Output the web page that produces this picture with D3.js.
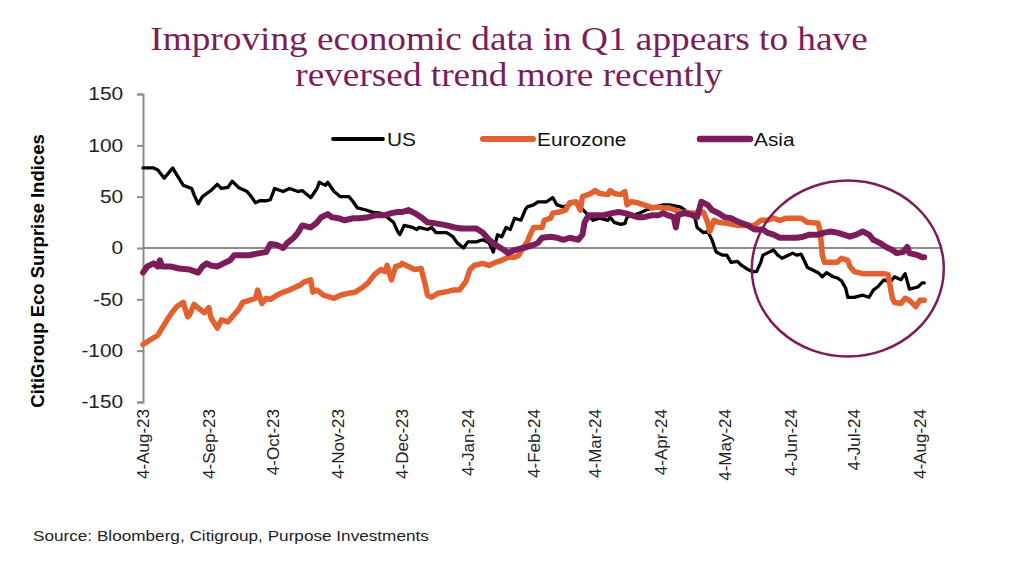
<!DOCTYPE html>
<html><head><meta charset="utf-8">
<script src="https://cdn.jsdelivr.net/npm/d3@7"></script>
<style>body{margin:0;background:#fff}</style>
</head><body><svg id="c" width="1024" height="575"></svg>
<script>
const titleLines = ["Improving economic data in Q1 appears to have", "reversed trend more recently"];
const seriesNames = ["US", "Eurozone", "Asia"];
const yLabel = "CitiGroup Eco Surprise Indices";
const sourceText = "Source: Bloomberg, Citigroup, Purpose Investments";
const yTicks = [150, 100, 50, 0, -50, -100, -150];
const xTickDates = ["2023-08-04","2023-09-04","2023-10-04","2023-11-04","2023-12-04","2024-01-04","2024-02-04","2024-03-04","2024-04-04","2024-05-04","2024-06-04","2024-07-04","2024-08-04"];

const usData = [
["2023-08-04",78],["2023-08-09",78],["2023-08-11",76],["2023-08-14",68],["2023-08-18",78],["2023-08-20",71],["2023-08-23",61],["2023-08-27",58],["2023-08-28",52],["2023-08-30",43],["2023-09-01",50],["2023-09-05",56],["2023-09-08",62],["2023-09-10",58],["2023-09-13",59],["2023-09-15",65],["2023-09-18",59],["2023-09-22",55],["2023-09-24",50],["2023-09-26",44],["2023-09-28",46],["2023-10-01",46],["2023-10-03",47],["2023-10-05",58],["2023-10-09",55],["2023-10-12",58],["2023-10-16",55],["2023-10-18",56],["2023-10-22",49],["2023-10-25",58],["2023-10-26",64],["2023-10-29",61],["2023-10-30",64],["2023-11-02",55],["2023-11-05",50],["2023-11-09",50],["2023-11-11",45],["2023-11-13",39],["2023-11-17",37],["2023-11-20",35],["2023-11-24",34],["2023-11-27",30],["2023-11-30",25],["2023-12-02",16],["2023-12-03",13],["2023-12-05",22],["2023-12-09",20],["2023-12-11",18],["2023-12-12",20],["2023-12-16",18],["2023-12-18",20],["2023-12-20",15],["2023-12-25",15],["2023-12-28",11],["2023-12-30",5],["2024-01-02",0],["2024-01-04",6],["2024-01-08",6],["2024-01-11",8],["2024-01-14",5],["2024-01-16",-4],["2024-01-18",13],["2024-01-20",11],["2024-01-22",20],["2024-01-24",18],["2024-01-26",29],["2024-01-29",27],["2024-01-31",37],["2024-02-01",40],["2024-02-04",42],["2024-02-06",45],["2024-02-10",45],["2024-02-13",49],["2024-02-15",42],["2024-02-18",40],["2024-02-23",44],["2024-02-26",40],["2024-03-03",27],["2024-03-06",29],["2024-03-10",27],["2024-03-11",30],["2024-03-13",25],["2024-03-16",23],["2024-03-18",24],["2024-03-19",30],["2024-03-25",34],["2024-03-28",37],["2024-04-02",40],["2024-04-05",42],["2024-04-08",42],["2024-04-13",40],["2024-04-14",39],["2024-04-18",32],["2024-04-20",29],["2024-04-21",20],["2024-04-24",15],["2024-04-26",16],["2024-04-28",8],["2024-04-30",-4],["2024-05-03",-7],["2024-05-05",-7],["2024-05-07",-14],["2024-05-10",-13],["2024-05-12",-17],["2024-05-15",-21],["2024-05-17",-23],["2024-05-19",-23],["2024-05-21",-14],["2024-05-22",-7],["2024-05-24",-5],["2024-05-27",-2],["2024-05-29",-7],["2024-05-31",-10],["2024-06-03",-7],["2024-06-05",-5],["2024-06-07",-7],["2024-06-09",-6],["2024-06-12",-19],["2024-06-14",-21],["2024-06-17",-24],["2024-06-19",-28],["2024-06-21",-24],["2024-06-24",-28],["2024-06-26",-29],["2024-06-28",-32],["2024-06-30",-39],["2024-07-01",-48],["2024-07-04",-48],["2024-07-08",-46],["2024-07-11",-48],["2024-07-13",-41],["2024-07-15",-38],["2024-07-18",-31],["2024-07-21",-33],["2024-07-23",-28],["2024-07-26",-31],["2024-07-28",-25],["2024-07-30",-40],["2024-08-03",-38],["2024-08-05",-34],["2024-08-06",-34]
];

const ezData = [
["2023-08-04",-94],["2023-08-07",-90],["2023-08-11",-85],["2023-08-13",-78],["2023-08-16",-68],["2023-08-18",-62],["2023-08-20",-57],["2023-08-23",-53],["2023-08-25",-67],["2023-08-26",-65],["2023-08-28",-55],["2023-08-31",-60],["2023-09-02",-63],["2023-09-04",-58],["2023-09-05",-68],["2023-09-08",-78],["2023-09-10",-70],["2023-09-13",-72],["2023-09-15",-67],["2023-09-18",-60],["2023-09-20",-53],["2023-09-23",-51],["2023-09-26",-49],["2023-09-27",-41],["2023-09-29",-54],["2023-10-01",-49],["2023-10-03",-50],["2023-10-06",-46],["2023-10-09",-43],["2023-10-12",-41],["2023-10-15",-38],["2023-10-17",-36],["2023-10-19",-33],["2023-10-22",-31],["2023-10-23",-43],["2023-10-25",-41],["2023-10-28",-46],["2023-11-02",-49],["2023-11-05",-46],["2023-11-09",-44],["2023-11-12",-43],["2023-11-15",-39],["2023-11-18",-34],["2023-11-21",-26],["2023-11-24",-21],["2023-11-26",-23],["2023-11-27",-17],["2023-11-29",-31],["2023-12-01",-18],["2023-12-03",-17],["2023-12-04",-15],["2023-12-06",-17],["2023-12-10",-21],["2023-12-13",-20],["2023-12-15",-36],["2023-12-16",-46],["2023-12-18",-48],["2023-12-21",-44],["2023-12-24",-43],["2023-12-28",-41],["2023-12-31",-41],["2024-01-03",-33],["2024-01-05",-21],["2024-01-07",-17],["2024-01-11",-15],["2024-01-14",-17],["2024-01-17",-14],["2024-01-20",-12],["2024-01-23",-9],["2024-01-26",-9],["2024-01-28",-7],["2024-01-30",0],["2024-02-01",6],["2024-02-02",11],["2024-02-04",20],["2024-02-06",20],["2024-02-08",20],["2024-02-09",27],["2024-02-12",29],["2024-02-13",34],["2024-02-16",35],["2024-02-19",37],["2024-02-21",44],["2024-02-24",45],["2024-02-26",37],["2024-02-27",50],["2024-03-02",53],["2024-03-04",56],["2024-03-06",53],["2024-03-10",52],["2024-03-11",56],["2024-03-13",53],["2024-03-16",52],["2024-03-18",55],["2024-03-19",42],["2024-03-21",45],["2024-03-24",44],["2024-03-27",42],["2024-03-31",39],["2024-04-02",40],["2024-04-05",39],["2024-04-08",39],["2024-04-13",35],["2024-04-18",34],["2024-04-21",34],["2024-04-24",35],["2024-04-26",25],["2024-04-27",16],["2024-04-29",27],["2024-05-01",25],["2024-05-05",24],["2024-05-10",22],["2024-05-15",22],["2024-05-18",22],["2024-05-21",27],["2024-05-24",27],["2024-05-27",29],["2024-05-30",27],["2024-06-02",29],["2024-06-05",29],["2024-06-09",29],["2024-06-12",25],["2024-06-17",24],["2024-06-18",16],["2024-06-19",-7],["2024-06-20",-14],["2024-06-23",-14],["2024-06-26",-14],["2024-06-28",-10],["2024-07-01",-12],["2024-07-02",-18],["2024-07-04",-23],["2024-07-08",-25],["2024-07-13",-25],["2024-07-18",-25],["2024-07-20",-26],["2024-07-21",-38],["2024-07-22",-49],["2024-07-23",-53],["2024-07-26",-54],["2024-07-28",-49],["2024-07-30",-51],["2024-08-02",-57],["2024-08-04",-51],["2024-08-06",-51]
];

const asiaData = [
["2023-08-04",-24],["2023-08-06",-18],["2023-08-09",-15],["2023-08-11",-18],["2023-08-12",-12],["2023-08-13",-18],["2023-08-17",-18],["2023-08-21",-20],["2023-08-26",-21],["2023-08-30",-24],["2023-09-01",-18],["2023-09-03",-15],["2023-09-05",-17],["2023-09-08",-18],["2023-09-11",-15],["2023-09-14",-12],["2023-09-16",-7],["2023-09-20",-7],["2023-09-23",-7],["2023-09-28",-5],["2023-10-01",-4],["2023-10-03",4],["2023-10-06",3],["2023-10-09",0],["2023-10-11",5],["2023-10-14",10],["2023-10-16",15],["2023-10-18",22],["2023-10-22",20],["2023-10-25",25],["2023-10-27",30],["2023-10-30",33],["2023-11-01",30],["2023-11-04",29],["2023-11-07",27],["2023-11-11",29],["2023-11-14",29],["2023-11-18",30],["2023-11-22",32],["2023-11-26",32],["2023-11-29",34],["2023-12-02",35],["2023-12-04",35],["2023-12-07",37],["2023-12-10",34],["2023-12-13",30],["2023-12-16",25],["2023-12-20",24],["2023-12-25",22],["2023-12-29",20],["2024-01-01",19],["2024-01-04",19],["2024-01-08",19],["2024-01-11",15],["2024-01-14",8],["2024-01-17",3],["2024-01-21",-2],["2024-01-23",-5],["2024-01-26",-2],["2024-01-30",0],["2024-02-01",1],["2024-02-04",3],["2024-02-06",5],["2024-02-08",10],["2024-02-12",11],["2024-02-15",10],["2024-02-18",8],["2024-02-21",10],["2024-02-25",8],["2024-02-27",13],["2024-02-28",25],["2024-03-01",32],["2024-03-04",32],["2024-03-08",32],["2024-03-12",34],["2024-03-15",35],["2024-03-18",34],["2024-03-21",32],["2024-03-24",30],["2024-03-27",30],["2024-03-31",32],["2024-04-03",32],["2024-04-05",34],["2024-04-07",32],["2024-04-10",30],["2024-04-11",20],["2024-04-12",32],["2024-04-15",34],["2024-04-19",32],["2024-04-21",30],["2024-04-23",45],["2024-04-26",42],["2024-04-28",37],["2024-05-01",34],["2024-05-04",30],["2024-05-07",29],["2024-05-11",25],["2024-05-15",22],["2024-05-18",18],["2024-05-22",18],["2024-05-24",15],["2024-05-27",13],["2024-05-30",10],["2024-06-02",10],["2024-06-07",10],["2024-06-10",11],["2024-06-13",13],["2024-06-17",13],["2024-06-20",15],["2024-06-23",16],["2024-06-26",15],["2024-06-29",13],["2024-07-02",11],["2024-07-05",13],["2024-07-08",16],["2024-07-11",13],["2024-07-13",8],["2024-07-16",5],["2024-07-19",1],["2024-07-22",-2],["2024-07-24",-5],["2024-07-27",-4],["2024-07-29",1],["2024-07-30",-5],["2024-08-03",-7],["2024-08-05",-9],["2024-08-06",-9]
];

const highlight = {date: "2024-07-01", value: -20};

const colors = {US: "#000000", Eurozone: "#E2612F", Asia: "#7B1D5B"};
const widths = {US: 3.3, Eurozone: 5.5, Asia: 6};
const seriesData = {US: usData, Eurozone: ezData, Asia: asiaData};

const parse = d3.utcParse("%Y-%m-%d");
const fmt = d3.utcFormat("%-d-%b-%y");
const svg = d3.select("#c");
const sx = 1.13; // horizontal stretch of the original

const x = d3.scaleUtc().domain([parse(xTickDates[0]), parse(xTickDates[xTickDates.length-1])]).range([143, 920]);
const y = d3.scaleLinear().domain([-150, 150]).range([402, 94]);

// title
svg.append("g").selectAll("text").data(titleLines).join("text")
  .attr("transform", (d,i) => `translate(509,${50 + i*36}) scale(${sx},1)`)
  .attr("text-anchor", "middle")
  .attr("font-family", "'Liberation Serif', 'Times New Roman', serif")
  .attr("font-size", 33)
  .attr("fill", "#7B1D5B")
  .text(d => d);

// y axis
const yAxis = svg.append("g").attr("transform", "translate(143,0)")
  .call(d3.axisLeft(y).tickValues(yTicks).tickSize(6).tickPadding(8).tickFormat(d => String(d)));
yAxis.select(".domain").attr("stroke", "#8c8c8c").attr("stroke-width", 2);
yAxis.selectAll(".tick line").attr("stroke", "#8c8c8c").attr("stroke-width", 2);
yAxis.selectAll(".tick text").attr("font-family", "'Liberation Sans', Arial, sans-serif")
  .attr("font-size", 18.5).attr("fill", "#222")
  .attr("transform", `translate(-4,0) scale(${sx},1)`);

// zero line
svg.append("line").attr("x1", 143).attr("x2", 940).attr("y1", y(0)).attr("y2", y(0))
  .attr("stroke", "#8c8c8c").attr("stroke-width", 2);

// x labels
const xg = svg.append("g").attr("transform", `translate(0,${y(-150)})`);
xg.selectAll("text").data(xTickDates).join("text")
  .attr("transform", d => `translate(${x(parse(d)) + 6},7) rotate(-90)`)
  .attr("text-anchor", "end")
  .attr("font-family", "'Liberation Sans', Arial, sans-serif")
  .attr("font-size", 17).attr("fill", "#222")
  .text(d => fmt(parse(d)));

// y title
svg.append("text")
  .attr("transform", `translate(44,271) rotate(-90)`)
  .attr("text-anchor", "middle")
  .attr("font-family", "'Liberation Sans', Arial, sans-serif")
  .attr("font-weight", "bold")
  .attr("font-size", 18.5).attr("fill", "#000")
  .text(yLabel);

// lines
const line = d3.line().x(d => x(parse(d[0]))).y(d => y(d[1]));
seriesNames.forEach(name => {
  svg.append("path").datum(seriesData[name])
    .attr("d", line).attr("fill", "none")
    .attr("stroke", colors[name]).attr("stroke-width", widths[name])
    .attr("stroke-linejoin", "round").attr("stroke-linecap", "round");
});

// legend
const legendX = [333, 483, 700];
const lg = svg.append("g");
seriesNames.forEach((name, i) => {
  lg.append("line").attr("x1", legendX[i]).attr("x2", legendX[i] + 50).attr("y1", 139).attr("y2", 139)
    .attr("stroke", colors[name]).attr("stroke-width", widths[name] + 0.5).attr("stroke-linecap", "round");
  lg.append("text").attr("transform", `translate(${legendX[i] + 54},146) scale(${sx},1)`)
    .attr("font-family", "'Liberation Sans', Arial, sans-serif")
    .attr("font-size", 18.5).attr("fill", "#111").text(name);
});

// highlight ellipse
svg.append("ellipse").attr("cx", x(parse(highlight.date))).attr("cy", y(highlight.value))
  .attr("rx", 96).attr("ry", 88).attr("fill", "none")
  .attr("stroke", "#7B1D5B").attr("stroke-width", 2.5);

// source
svg.append("text").attr("transform", `translate(33,541) scale(${sx},1)`)
  .attr("font-family", "'Liberation Sans', Arial, sans-serif")
  .attr("font-size", 15.2).attr("fill", "#222").text(sourceText);
</script>
</body></html>
